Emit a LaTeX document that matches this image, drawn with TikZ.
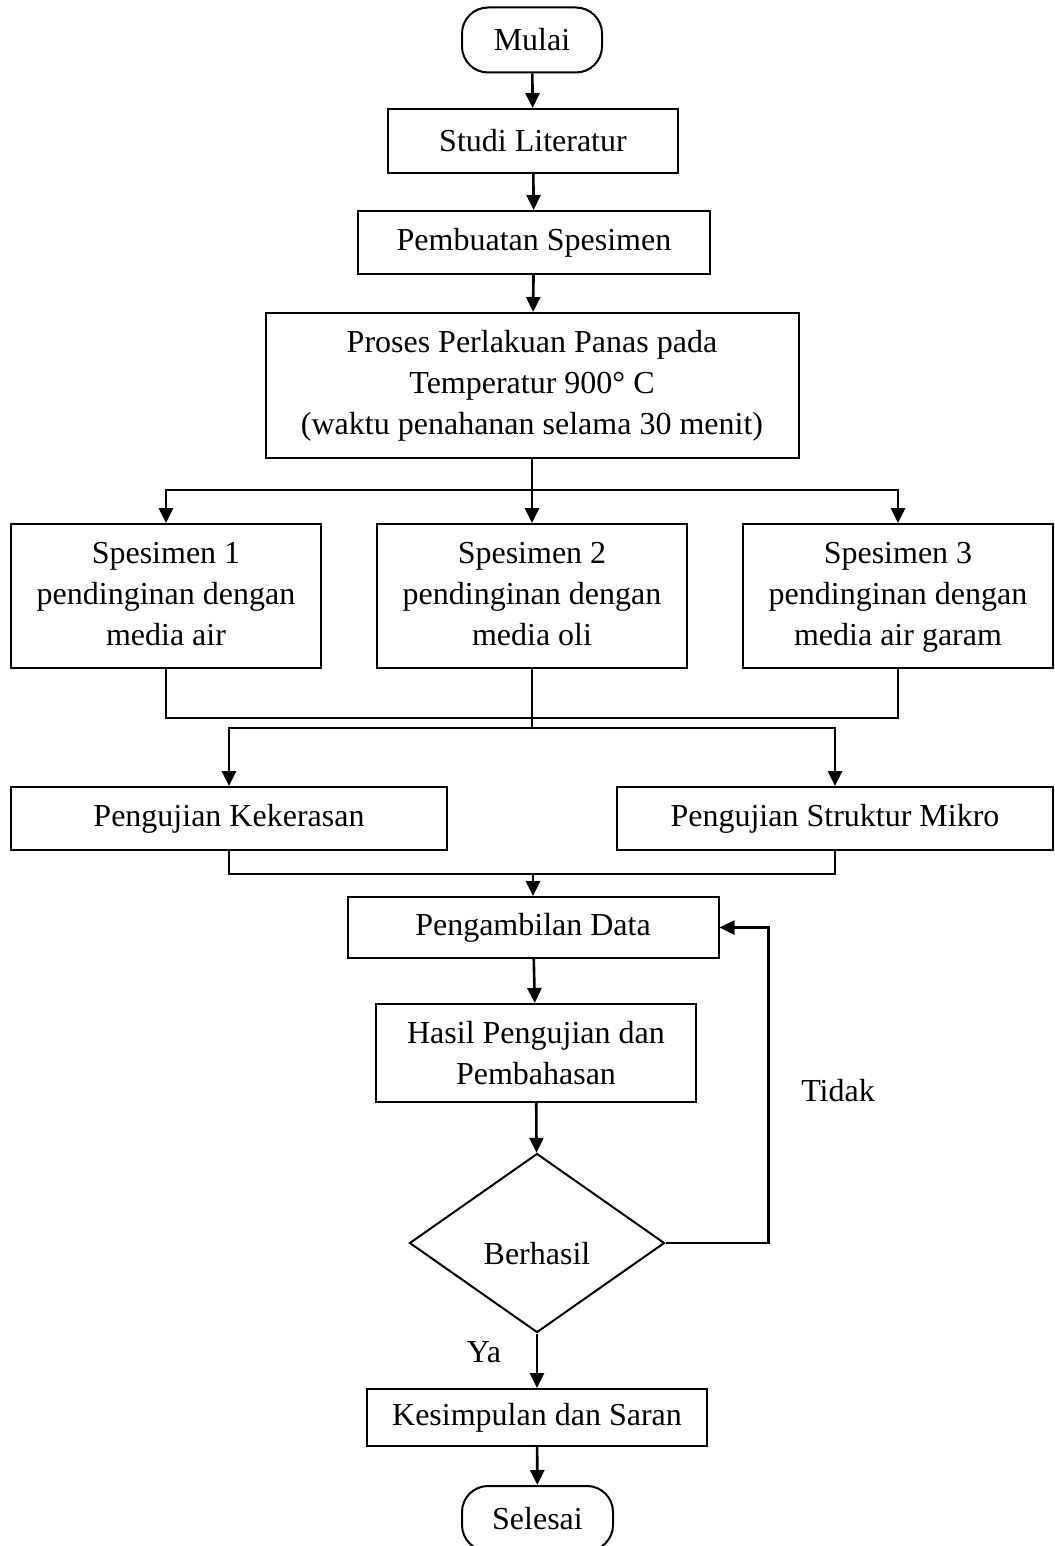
\documentclass[tikz,border=0pt]{standalone}
\usepackage{fontspec}
\setmainfont{Liberation Serif}
\usetikzlibrary{arrows.meta,shapes.geometric}

\tikzset{
  box/.style={draw, align=center, inner sep=0pt, line width=1pt},
  terminal/.style={box, rounded corners=13pt},
  decide/.style={draw, diamond, inner sep=0pt, line width=1pt},
}

\begin{document}
\begin{tikzpicture}[x=0.5pt, y=-0.5pt, line width=1.3pt,
    every node/.style={font=\fontsize{16}{20.5}\selectfont},
    >={Triangle[length=7.5pt,width=7pt]}]
  \useasboundingbox (0,0) rectangle (1054,1546);

  % top part
  \node[terminal, minimum width=70pt, minimum height=32.5pt] (mulai) at (532,40) {Mulai};
  \node[box, minimum width=145pt, minimum height=32pt] (studi) at (533,141) {Studi Literatur};
  \node[box, minimum width=176pt, minimum height=31.5pt] (buat) at (534,242.5) {Pembuatan Spesimen};
  \node[box, minimum width=266.5pt, minimum height=72.5pt] (proses) at (532,385.5)
    {Proses Perlakuan Panas pada\\Temperatur 900° C\\(waktu penahanan selama 30 menit)};
  \draw[->] (mulai) -- (studi);
  \draw[->] (studi) -- (buat);
  \draw[->] (buat) -- (proses);

  % three specimens
  \foreach \n/\x/\lab in {1/166/air, 2/532/oli, 3/898/air garam} {
    \node[box, minimum width=155pt, minimum height=72pt] (s\n) at (\x,596)
      {\strut Spesimen \n\\pendinginan dengan\\media \lab\strut};
  }
  \draw (proses.south) -- (532,490) coordinate (bagi);
  \foreach \n in {1,2,3}
    \draw[->] (bagi) -| (s\n.north);

  % testing
  \node[box, minimum width=218pt, minimum height=31.5pt] (keras) at (229,818.5) {Pengujian Kekerasan};
  \node[box, minimum width=218pt, minimum height=31.5pt] (mikro) at (835,818.5) {Pengujian Struktur Mikro};
  \draw (s1.south) -- ++(0,49) -| (s3.south);
  \draw (s2.south) -- (532,728) coordinate (gabung);
  \draw[->] (gabung) -| (keras.north);
  \draw[->] (gabung) -| (mikro.north);

  % results
  \node[box, minimum width=185.5pt, minimum height=30.5pt] (ambil) at (533,927.5) {Pengambilan Data};
  \node[box, minimum width=160pt, minimum height=49pt] (hasil) at (536,1053) {Hasil Pengujian dan\\Pembahasan};
  \node[decide, minimum width=127.5pt, minimum height=89.5pt,
    label={[yshift=-5.5pt]center:Berhasil}] (cek) at (537,1243) {};
  \node[box, minimum width=170pt, minimum height=28.5pt] (simpul) at (537,1417.5) {Kesimpulan dan Saran};
  \node[terminal, minimum width=75.5pt, minimum height=32.5pt] (selesai) at (537.5,1518.5) {Selesai};
  \draw (keras.south) -- ++(0,23) -| (mikro.south);
  \coordinate (kumpul) at (533,873);
  \draw[->] (kumpul) -- (ambil);
  \draw[->] (ambil) -- (hasil);
  \draw[->] (hasil) -- (cek);
  \draw[->] (cek) -- (simpul) node[pos=0.35, left=14pt] (ya) {Ya};
  \draw[->] (simpul) -- (selesai);
  \draw[->] (cek.east) -- ++(103,0) |- (ambil.east);
  \node (tidak) at (838,1091) {Tidak};
\end{tikzpicture}
\end{document}
